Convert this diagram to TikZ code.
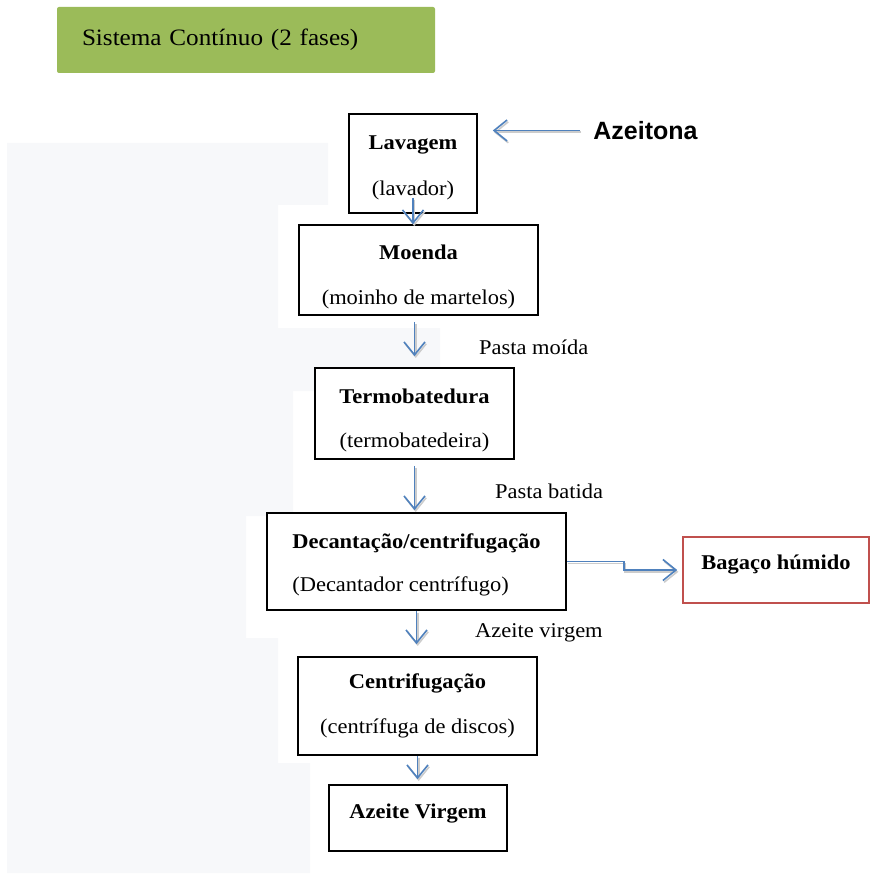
\documentclass[tikz,border=0pt]{standalone}
\usepackage{fontspec}
\setmainfont{Liberation Serif}[FakeStretch=1.07]
\newfontfamily\arial{Liberation Sans}
\usetikzlibrary{arrows.meta,positioning,calc}
\definecolor{verdetit}{HTML}{9BBB59}
\definecolor{azulseta}{HTML}{4F81BD}
\definecolor{vermcaixa}{HTML}{C0504D}
\definecolor{fundo}{HTML}{F7F8FA}
\newcommand{\desce}[1]{\rule{0pt}{#1}}

\begin{document}
\begin{tikzpicture}[x=1pt,y=-1pt,>={Straight Barb[length=13pt,width=21pt]},
  font=\fontsize{21}{25.2}\selectfont,
  caixa/.style={draw,line width=1.6pt,fill=white,align=center},
  titulo/.style={fill=verdetit,rounded corners=2pt,text width=328pt,inner xsep=25pt,minimum height=66pt,align=left,font=\fontsize{23.5}{28}\selectfont},
  rotulo/.style={inner sep=0pt,anchor=west},
  seta/.style={->,draw=azulseta,line width=1.6pt,preaction={draw=black!20,line width=1.6pt,transform canvas={shift={(1.2pt,-1.8pt)}}}}]
  \useasboundingbox (0,0) rectangle (870,874);
  % fundo claro
  \fill[fundo] (7,143) -| (328,205) -| (278,328) -| (440,391) -| (293,516) -| (246,638) -| (278,763) -| (310,873) -- (7,873) -- cycle;

  \node[titulo] (tit) at (246,40) {Sistema Contínuo (2 fases)};
  \node[caixa,minimum width=128pt,minimum height=99pt] (lav) at (413,163.5) {\desce{22pt}\textbf{Lavagem}\\[21pt](lavador)};
  \node[font=\arial\bfseries\fontsize{25}{30}\selectfont,inner sep=0pt] (az) at (645.5,130.5) {Azeitona};
  \node[caixa,minimum width=239pt,minimum height=90pt] (moe) at (418.5,270) {\desce{28pt}\textbf{Moenda}\\[20pt](moinho de martelos)};
  \node[caixa,minimum width=199pt,minimum height=91pt] (ter) at (414.5,413.5) {\desce{28pt}\textbf{Termobatedura}\\[19pt](termobatedeira)};
  \node[caixa,minimum width=299pt,minimum height=97pt,align=left] (dec) at (416.5,561.5) {\desce{21pt}\textbf{Decantação/centrifugação}\\[18pt](Decantador centrífugo)};
  \node[caixa,minimum width=239pt,minimum height=98pt] (cen) at (417.5,706) {\textbf{Centrifugação}\\[20pt](centrífuga de discos)};
  \node[caixa,minimum width=178pt,minimum height=66pt,text depth=14pt] (azv) at (418,818) {\textbf{Azeite Virgem}};
  \node[caixa,draw=vermcaixa,minimum width=186pt,minimum height=66pt,text depth=16pt] (bag) at (776,570) {\textbf{Bagaço húmido}};

  \node[rotulo] (pm) at (479,347) {Pasta moída};
  \node[rotulo] (pb) at (495,491) {Pasta batida};
  \node[rotulo] (av) at (475,633) {Azeite virgem};

  \draw[seta,shorten <=13pt,shorten >=15pt] (az.west) -- (az.west -| lav.east);
  \draw[seta] ([yshift=16pt]lav.south) -- (lav.south |- moe.north);
  \draw[seta,shorten <=6pt,shorten >=11pt] (moe.south -| ter.north) -- (ter.north);
  \draw[seta,shorten <=6pt,shorten >=2pt] (ter.south) -- (ter.south |- dec.north);
  \draw[seta,shorten >=12pt] (dec.south) -- (dec.south |- cen.north);
  \draw[seta,shorten >=5pt] (cen.south) -- (cen.south |- azv.north);
  \draw[seta,shorten >=5pt] (dec.east) -- ++(57,0) |- (bag.west);
\end{tikzpicture}
\end{document}
